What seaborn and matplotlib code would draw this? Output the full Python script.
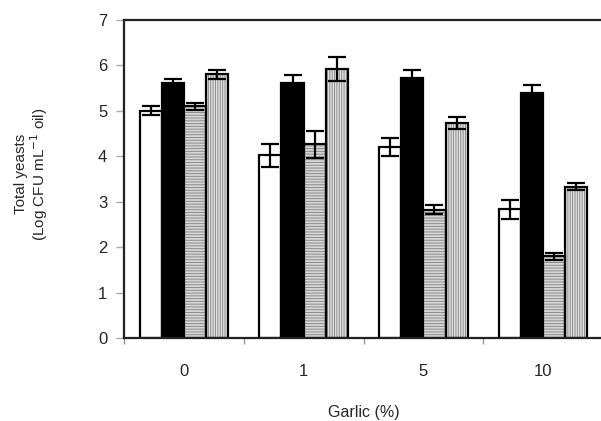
import numpy as np
import pandas as pd
import seaborn as sns
import matplotlib.pyplot as plt
from matplotlib.patches import Rectangle

garlic = ["0", "1", "5", "10"]
series = ["A", "B", "C", "D"]
values = {
    "A": [5.0, 4.02, 4.21, 2.83],
    "B": [5.61, 5.62, 5.73, 5.40],
    "C": [5.10, 4.26, 2.82, 1.80],
    "D": [5.81, 5.92, 4.74, 3.33],
}
errors = {
    "A": [0.10, 0.25, 0.20, 0.20],
    "B": [0.10, 0.16, 0.16, 0.16],
    "C": [0.08, 0.30, 0.10, 0.08],
    "D": [0.10, 0.26, 0.13, 0.08],
}
faces = {"A": "white", "B": "black", "C": "#d6d6d6", "D": "#e0e0e0"}
hatches = {"A": None, "B": None, "C": "------", "D": "|||||||"}

rows = []
for s in series:
    for g, v in zip(garlic, values[s]):
        rows.append({"garlic": g, "series": s, "value": v})
df = pd.DataFrame(rows)

sns.set_style("white")
plt.rcParams["font.family"] = ["Liberation Sans", "DejaVu Sans"]
plt.rcParams["hatch.linewidth"] = 0.7

fig = plt.figure(figsize=(6.01, 4.21), dpi=100)
ax = fig.add_axes([124 / 601, 83 / 421, 479 / 601, 318 / 421])

sns.barplot(data=df, x="garlic", y="value", hue="series", order=garlic,
            hue_order=series, palette=faces, errorbar=None, width=0.74,
            edgecolor="black", linewidth=1.6, saturation=1, legend=False, ax=ax)

for s, cont in zip(series, ax.containers):
    xs = []
    tops = []
    for p in cont.patches:
        if hatches[s]:
            # hatch lines take the edge colour, so draw the black outline separately
            p.set_hatch(hatches[s])
            p.set_edgecolor("#8c8c8c")
            p.set_linewidth(0)
            ax.add_patch(Rectangle(p.get_xy(), p.get_width(), p.get_height(),
                                   fill=False, edgecolor="black", linewidth=1.6,
                                   zorder=p.get_zorder() + 0.1))
        xs.append(p.get_x() + p.get_width() / 2)
        tops.append(p.get_height())
    ax.errorbar(xs, tops, yerr=errors[s], fmt="none", ecolor="black",
                elinewidth=1.6, capsize=6.5, capthick=1.6, zorder=5)

ax.set_ylim(0, 7)
ax.set_xlim(-0.5, 3.5)
ax.set_yticks(range(0, 8))
ax.tick_params(axis="y", left=True, length=6, width=1, color="#aaaaaa",
               labelsize=12, pad=6)
ax.set_xticks(np.arange(-0.5, 4.0, 1.0), minor=True)
ax.tick_params(axis="x", which="major", bottom=False, labelsize=12, pad=15)
ax.tick_params(axis="x", which="minor", bottom=True, length=4, width=1,
               color="#999999")

for side in ["left", "bottom", "top"]:
    ax.spines[side].set_visible(True)
    ax.spines[side].set_color("#222222")
    ax.spines[side].set_linewidth(1.6)
ax.spines["right"].set_visible(False)

ax.set_xlabel("Garlic (%)", fontsize=11.5, labelpad=19)
ax.set_ylabel("Total yeasts\n(Log CFU mL$^{-1}$ oil)", fontsize=11,
              linespacing=1.0)
ax.yaxis.set_label_coords(-0.155, 0.515)

fig.savefig("out.png", dpi=100)
